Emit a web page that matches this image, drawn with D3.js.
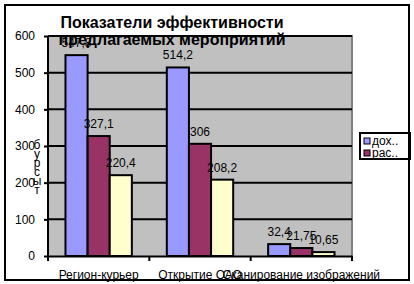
<!DOCTYPE html>
<html><head><meta charset="utf-8">
<script src="https://cdn.jsdelivr.net/npm/d3@7"></script>
<style>body{margin:0;background:#fff}svg{display:block}</style>
</head><body>
<svg id="c" width="414" height="284"></svg>
<script>
const categories = ["Регион-курьер", "Открытие ОАО", "Сканирование изображений"];
const seriesNames = ["дох..", "рас..", "эфф"];
const dohod = [547.8, 514.2, 32.4];
const rashod = [327.1, 306, 21.75];
const effekt = [220.4, 208.2, 10.65];
const yTicks = [0, 100, 200, 300, 400, 500, 600];
const colors = ["#9999FF", "#993366", "#FFFFCC"];
const titleLines = ["Показатели эффективности", "предлагаемых мероприятий"];
const yTitleLetters = ["б", "у", "р", "с", "ы", "т"];

const series = [dohod, rashod, effekt];
const svg = d3.select("#c");
const font = "'Liberation Sans', Arial, sans-serif";
const L = 48, R = 352, T = 36, B = 256;

const x = d3.scaleBand().domain(categories).range([L, R]).paddingInner(0.345).paddingOuter(0.1725);
const xs = d3.scaleBand().domain(d3.range(3)).range([0, x.bandwidth()]);
const y = d3.scaleLinear().domain([0, 600]).range([B, T]);

svg.append("rect").attr("x", L).attr("y", T).attr("width", R - L).attr("height", B - T).attr("fill", "#C0C0C0");
svg.append("path").attr("d", `M${L},${T}H${R}V${B}`).attr("fill", "none").attr("stroke", "#808080").attr("stroke-width", 2);

// gridlines
svg.append("g").selectAll("line").data(yTicks.filter(d => d > 0)).join("line")
  .attr("x1", L).attr("x2", R).attr("y1", d => y(d)).attr("y2", d => y(d))
  .attr("stroke", "#000").attr("stroke-width", 2);

// bars
const g = svg.append("g");
series.forEach((s, i) => {
  g.selectAll(null).data(s).join("rect")
    .attr("x", (d, j) => x(categories[j]) + xs(i))
    .attr("y", d => y(d))
    .attr("width", xs.bandwidth())
    .attr("height", d => B - y(d))
    .attr("fill", colors[i]).attr("stroke", "#000").attr("stroke-width", 2);
});

// axes
const ya = svg.append("g").attr("transform", `translate(${L},0)`)
  .call(d3.axisLeft(y).tickValues(yTicks).tickSize(4).tickPadding(9).tickFormat(d3.format("d")));
const xa = svg.append("g").attr("transform", `translate(0,${B})`)
  .call(d3.axisBottom(x).tickSize(0).tickFormat(""));
[ya, xa].forEach(a => {
  a.select(".domain").attr("stroke", "#000").attr("stroke-width", 2);
  a.selectAll(".tick line").attr("stroke", "#000").attr("stroke-width", 2);
});
ya.select(".domain").attr("d", `M0,${T}V${B}`);
ya.selectAll("text").attr("font-family", font).attr("font-size", 12).attr("fill", "#000");
// x ticks at band boundaries
const bounds = [L].concat(categories.map(c => x(c) + x.bandwidth() + x.step() * x.paddingInner() / 2));
bounds[3] = R;
svg.append("g").selectAll("line").data(bounds).join("line")
  .attr("x1", d => d).attr("x2", d => d).attr("y1", B).attr("y2", B + 5)
  .attr("stroke", "#000").attr("stroke-width", 2);

// value labels
const fmt = v => String(v).replace(".", ",");
series.forEach((s, i) => {
  svg.append("g").selectAll("text").data(s).join("text")
    .attr("x", (d, j) => x(categories[j]) + xs(i) + xs.bandwidth() / 2)
    .attr("y", d => y(d) - 8)
    .attr("text-anchor", "middle").attr("font-family", font).attr("font-size", 12).attr("fill", "#000")
    .text(fmt);
});

// category labels
svg.append("g").selectAll("text").data(categories).join("text")
  .attr("x", d => x(d) + x.bandwidth() / 2).attr("y", 279)
  .attr("text-anchor", "middle").attr("font-family", font).attr("font-size", 12).attr("fill", "#000")
  .text(d => d);

// y title (stacked letters)
svg.append("g").selectAll("text").data(yTitleLetters).join("text")
  .attr("x", 37).attr("y", (d, i) => 149 + i * 9)
  .attr("text-anchor", "middle").attr("font-family", font).attr("font-size", 12).attr("fill", "#000")
  .text(d => d);

// title
svg.append("g").selectAll("text").data(titleLines).join("text")
  .attr("x", 172).attr("y", (d, i) => 28 + i * 17)
  .attr("text-anchor", "middle").attr("font-family", font).attr("font-size", 16).attr("font-weight", "bold").attr("fill", "#000")
  .text(d => d);

// legend
const lg = svg.append("g");
lg.append("rect").attr("x", 360).attr("y", 133).attr("width", 50).attr("height", 26)
  .attr("fill", "#fff").attr("stroke", "#000").attr("stroke-width", 2);
seriesNames.slice(0, 2).forEach((n, i) => {
  lg.append("rect").attr("x", 364).attr("y", 138 + i * 12).attr("width", 6).attr("height", 6)
    .attr("fill", colors[i]).attr("stroke", "#000").attr("stroke-width", 1);
  lg.append("text").attr("x", 372).attr("y", 145 + i * 12)
    .attr("font-family", font).attr("font-size", 12).attr("fill", "#000").text(n);
});

// outer border
svg.append("rect").attr("x", 5).attr("y", 5).attr("width", 404).attr("height", 275)
  .attr("fill", "none").attr("stroke", "#000").attr("stroke-width", 2);
</script>
</body></html>
